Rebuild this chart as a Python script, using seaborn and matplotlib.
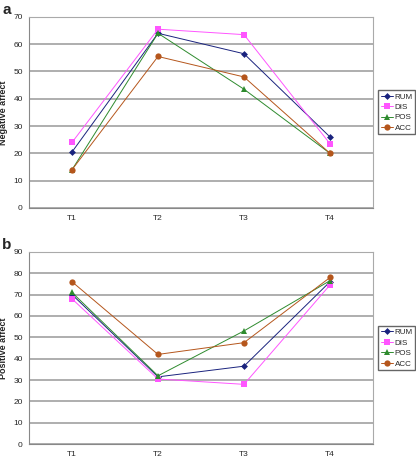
import pandas as pd
import seaborn as sns
import matplotlib.pyplot as plt

times = ['T1', 'T2', 'T3', 'T4']
groups = ['RUM', 'DIS', 'POS', 'ACC']

# Negative affect (panel a)
neg_rum = [20.5, 64.0, 56.5, 26.0]
neg_dis = [24.0, 65.5, 63.5, 23.5]
neg_pos = [14.0, 64.0, 43.5, 20.0]
neg_acc = [14.0, 55.5, 48.0, 20.0]

# Positive affect (panel b)
pos_rum = [70.0, 31.5, 36.5, 76.0]
pos_dis = [68.0, 30.5, 28.0, 74.5]
pos_pos = [71.0, 32.0, 53.0, 76.5]
pos_acc = [76.0, 42.0, 47.5, 78.0]

colors = {'RUM': '#1a237e', 'DIS': '#ff55ff', 'POS': '#2e8b2e', 'ACC': '#b5561c'}
markers = {'RUM': 'D', 'DIS': 's', 'POS': '^', 'ACC': 'o'}
msizes = {'RUM': 3.5, 'DIS': 4.5, 'POS': 4.5, 'ACC': 4.5}


def to_long(series):
    rows = []
    for g, vals in zip(groups, series):
        for t, v in zip(times, vals):
            rows.append({'time': t, 'group': g, 'value': v})
    return pd.DataFrame(rows)


sns.set_style('white')
plt.rcParams['font.family'] = ['Liberation Sans', 'DejaVu Sans']

fig = plt.figure(figsize=(4.16, 4.57), dpi=100)
ax_a = fig.add_axes([0.0697, 0.545, 0.827, 0.418])
ax_b = fig.add_axes([0.0697, 0.028, 0.827, 0.421])

panels = [
    (ax_a, to_long([neg_rum, neg_dis, neg_pos, neg_acc]), 'Negative affect', 70, 10, 'a'),
    (ax_b, to_long([pos_rum, pos_dis, pos_pos, pos_acc]), 'Positive affect', 90, 10, 'b'),
]

for ax, df, ylabel, ymax, step, letter in panels:
    for g in groups:
        sub = df[df['group'] == g]
        sns.lineplot(data=sub, x='time', y='value', ax=ax, color=colors[g],
                     marker=markers[g], markersize=msizes[g], markeredgewidth=0,
                     linewidth=0.7, label=g, sort=False)
    ax.set_xlim(-0.5, 3.5)
    ax.set_ylim(0, ymax)
    ax.set_yticks(range(0, ymax + 1, step))
    ax.yaxis.grid(True, color='#999999', linewidth=1.1)
    ax.set_axisbelow(True)
    for sp in ax.spines.values():
        sp.set_color('#aaaaaa')
        sp.set_linewidth(0.8)
    ax.spines['bottom'].set_color('#888888')
    ax.spines['left'].set_color('#888888')
    ax.set_xticks(range(len(times)))
    ax.set_xticklabels(times)
    ax.set_xticks([-0.5, 0.5, 1.5, 2.5, 3.5], minor=True)
    ax.tick_params(axis='x', which='major', length=0, labelsize=6, pad=5)
    ax.tick_params(axis='x', which='minor', length=3, color='#888888', direction='out')
    ax.tick_params(axis='y', length=3, color='#888888', labelsize=6, pad=1.5)
    ax.set_xlabel('')
    ax.set_ylabel(ylabel, fontsize=6.5, fontweight='bold')
    ax.yaxis.set_label_coords(-0.062, 0.5)
    ax.text(-0.078, 1.0, letter, transform=ax.transAxes, fontsize=11,
            fontweight='bold', ha='left', va='bottom')
    ax.legend(loc='center left', bbox_to_anchor=(1.015, 0.5), fontsize=5.8,
              frameon=True, fancybox=False, edgecolor='#666666', framealpha=1,
              handlelength=1.5, handletextpad=0.25, borderpad=0.3,
              borderaxespad=0, labelspacing=0.35)

fig.savefig('out.png', dpi=100)
